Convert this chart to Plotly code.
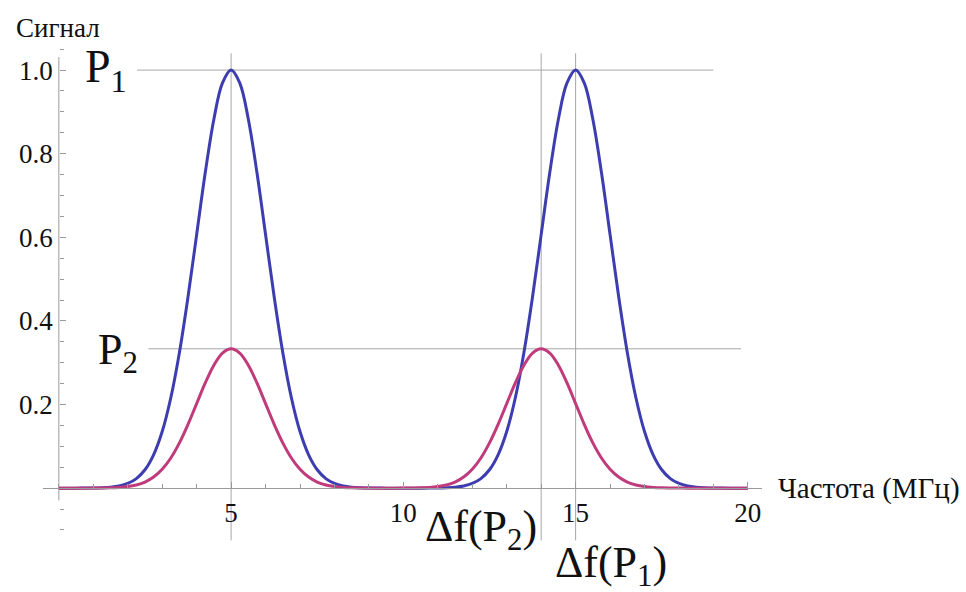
import plotly.graph_objects as go

# Frequency grid, MHz
freq = [i * 0.25 for i in range(81)]

# Signal for P1: peaks at 5 and 15 MHz
signal_p1 = [
    0.0, 0.0, 0.0, 0.0001, 0.0003, 0.0009, 0.0022, 0.0051,
    0.0111, 0.0228, 0.0439, 0.0796, 0.1353, 0.2163, 0.3247, 0.4578,
    0.6065, 0.7548, 0.8825, 0.9692, 1.0, 0.9692, 0.8825, 0.7548,
    0.6065, 0.4578, 0.3247, 0.2163, 0.1353, 0.0796, 0.0439, 0.0228,
    0.0111, 0.0051, 0.0022, 0.0009, 0.0003, 0.0001, 0.0, 0.0,
    0.0,
    0.0, 0.0, 0.0001, 0.0003, 0.0009, 0.0022, 0.0051,
    0.0111, 0.0228, 0.0439, 0.0796, 0.1353, 0.2163, 0.3247, 0.4578,
    0.6065, 0.7548, 0.8825, 0.9692, 1.0, 0.9692, 0.8825, 0.7548,
    0.6065, 0.4578, 0.3247, 0.2163, 0.1353, 0.0796, 0.0439, 0.0228,
    0.0111, 0.0051, 0.0022, 0.0009, 0.0003, 0.0001, 0.0, 0.0,
    0.0,
]

# Signal for P2: peaks at 5 and 14 MHz
signal_p2 = [
    0.0, 0.0, 0.0, 0.0, 0.0001, 0.0003, 0.0007, 0.0017,
    0.0037, 0.0076, 0.0146, 0.0265, 0.0451, 0.0721, 0.1082, 0.1526,
    0.2022, 0.2516, 0.2942, 0.3231, 0.3333, 0.3231, 0.2942, 0.2516,
    0.2022, 0.1526, 0.1082, 0.0721, 0.0451, 0.0265, 0.0146, 0.0076,
    0.0037, 0.0017, 0.0007, 0.0003, 0.0001, 0.0, 0.0, 0.0,
    0.0001, 0.0003, 0.0007, 0.0017,
    0.0037, 0.0076, 0.0146, 0.0265, 0.0451, 0.0721, 0.1082, 0.1526,
    0.2022, 0.2516, 0.2942, 0.3231, 0.3333, 0.3231, 0.2942, 0.2516,
    0.2022, 0.1526, 0.1082, 0.0721, 0.0451, 0.0265, 0.0146, 0.0076,
    0.0037, 0.0017, 0.0007, 0.0003, 0.0001, 0.0, 0.0, 0.0,
    0.0, 0.0, 0.0, 0.0, 0.0,
]

# Reference levels and peak centres
level_p1 = 1.0
level_p2 = 0.3333
peak_p1 = 15
peak_p2 = 14
peak_common = 5

x_ticks = [5, 10, 15, 20]
y_ticks = [0.2, 0.4, 0.6, 0.8]
y_tick_text = ["0.2", "0.4", "0.6", "0.8", "1.0"]

BLUE = "#3d3daf"
MAGENTA = "#bf3b7b"
GRID = "#a6a6a6"
AXIS = "#9a9a9a"
SERIF = "Times New Roman, Liberation Serif, DejaVu Serif, serif"
INK = "#111111"

x_range = [-0.46, 20.41]
y_range = [-0.148, 1.06]
y_span = y_range[1] - y_range[0]


def paper_y(v):
    """Convert a signal value to a paper fraction (may fall outside 0..1)."""
    return (v - y_range[0]) / y_span


fig = go.Figure()
fig.add_trace(go.Scatter(x=freq, y=signal_p1, mode="lines", line_shape="spline",
                         line=dict(color=BLUE, width=3), hoverinfo="skip"))
fig.add_trace(go.Scatter(x=freq, y=signal_p2, mode="lines", line_shape="spline",
                         line=dict(color=MAGENTA, width=3), hoverinfo="skip"))

shapes = []
# horizontal level lines
shapes.append(dict(type="line", xref="x", yref="y", x0=2.27, x1=19.0,
                   y0=level_p1, y1=level_p1, line=dict(color=GRID, width=1), layer="below"))
shapes.append(dict(type="line", xref="x", yref="y", x0=2.6, x1=19.8,
                   y0=level_p2, y1=level_p2, line=dict(color=GRID, width=1), layer="below"))
# vertical peak lines
for xv in (peak_common, peak_p2, peak_p1):
    shapes.append(dict(type="line", xref="x", yref="y", x0=xv, x1=xv,
                       y0=-0.125, y1=1.04, line=dict(color=GRID, width=1), layer="below"))
# vertical axis line through x = 0
shapes.append(dict(type="line", xref="x", yref="y", x0=0, x1=0, y0=-0.029, y1=1.031,
                   line=dict(color=AXIS, width=1), layer="below"))

annotations = [
    dict(text="Сигнал", xref="paper", yref="paper", x=-0.04, y=1.0, xanchor="left",
         yanchor="bottom", showarrow=False, font=dict(family=SERIF, size=27, color=INK)),
    dict(text="Частота (МГц)", xref="paper", yref="y", x=1.02, y=0.0, xanchor="left",
         yanchor="middle", showarrow=False, font=dict(family=SERIF, size=29, color=INK)),
    dict(text="P<sub>1</sub>", xref="x", yref="y", x=1.37, y=level_p1, showarrow=False,
         font=dict(family=SERIF, size=46, color=INK)),
    dict(text="P<sub>2</sub>", xref="x", yref="y", x=1.72, y=level_p2 - 0.01, showarrow=False,
         font=dict(family=SERIF, size=44, color=INK)),
    dict(text="Δf(P<sub>2</sub>)", xref="x", yref="paper", x=12.25, y=paper_y(-0.108),
         yshift=-26, showarrow=False, font=dict(family=SERIF, size=44, color=INK)),
    dict(text="Δf(P<sub>1</sub>)", xref="x", yref="paper", x=16.03, y=paper_y(-0.198),
         yshift=-24, showarrow=False, font=dict(family=SERIF, size=44, color=INK)),
]

x_axis_pos = (0 - y_range[0]) / y_span
y_axis_pos = (0 - x_range[0]) / (x_range[1] - x_range[0])

fig.update_layout(
    width=966, height=592,
    margin=dict(l=43, r=204, t=45, b=42),
    paper_bgcolor="white", plot_bgcolor="white",
    showlegend=False,
    font=dict(family=SERIF, color=INK),
    shapes=shapes,
    annotations=annotations,
    xaxis=dict(range=x_range, anchor="free", position=x_axis_pos,
               showgrid=False, zeroline=False, showline=True, linecolor=AXIS, linewidth=1,
               tickmode="array", tickvals=x_ticks, ticks="inside", ticklen=6,
               tickcolor=AXIS, tickfont=dict(family=SERIF, size=27, color=INK),
               minor=dict(dtick=1, ticks="inside", ticklen=4, tickcolor=AXIS, showgrid=False)),
    yaxis=dict(range=y_range, anchor="free", position=y_axis_pos,
               showgrid=False, zeroline=False, showline=False,
               tickmode="array", tickvals=y_ticks + [level_p1], ticktext=y_tick_text,
               ticks="inside", ticklen=6, tickcolor=AXIS, ticklabelstandoff=6,
               tickfont=dict(family=SERIF, size=27, color=INK),
               minor=dict(dtick=0.05, ticks="inside", ticklen=4, tickcolor=AXIS, showgrid=False)),
)

fig.write_html("out.html")
